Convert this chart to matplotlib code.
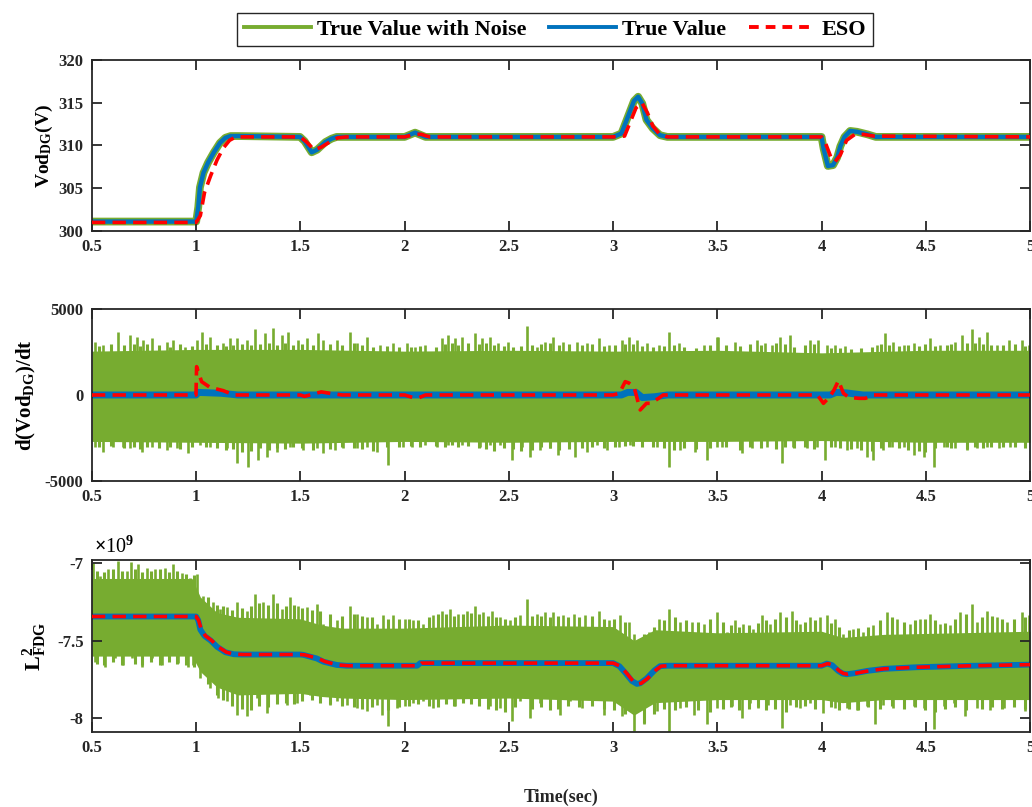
import numpy as np
import matplotlib
matplotlib.use("Agg")
import matplotlib.pyplot as plt
from matplotlib.lines import Line2D

plt.rcParams['font.family'] = ['Liberation Serif', 'DejaVu Serif']
plt.rcParams['font.weight'] = 'bold'
plt.rcParams['axes.unicode_minus'] = False
plt.rcParams['mathtext.fontset'] = 'custom'
plt.rcParams['mathtext.rm'] = 'Liberation Serif:bold'
plt.rcParams['mathtext.bf'] = 'Liberation Serif:bold'
plt.rcParams['mathtext.it'] = 'Liberation Serif:bold'
plt.rcParams['mathtext.default'] = 'bf'

GREEN = '#77AC30'
BLUE = '#0072BD'
RED = '#FF0000'

legend_labels = ['True Value with Noise', 'True Value', 'ESO']
x_ticks = [0.5, 1, 1.5, 2, 2.5, 3, 3.5, 4, 4.5, 5]

# ---------------- Panel 1: Vod_DG (V) ----------------
t1 = [0.5, 1.0, 1.01, 1.018, 1.035, 1.057, 1.085, 1.114, 1.14, 1.165, 1.2, 1.498, 1.52, 1.554,
      1.58, 1.62, 1.65, 1.674, 2.0, 2.03, 2.05, 2.07, 2.1, 3.0, 3.04, 3.07, 3.1, 3.12, 3.14,
      3.16, 3.19, 3.225, 3.26, 4.0, 4.01, 4.03, 4.055, 4.075, 4.09, 4.11, 4.137, 4.17, 4.22, 4.26, 5.0]
true1 = [301.1, 301.1, 302.8, 305.1, 306.8, 308.0, 309.2, 310.3, 310.9, 311.1, 311.1, 311.0, 310.5, 309.2,
         309.5, 310.4, 310.8, 311.0, 311.0, 311.3, 311.5, 311.3, 311.0, 311.0, 311.4, 313.3, 315.2, 315.7, 314.9,
         313.0, 312.0, 311.2, 311.0, 311.0, 309.6, 307.6, 307.7, 308.6, 309.9, 311.0, 311.7, 311.6, 311.3, 311.0, 311.0]
tE1 = [0.5, 1.0, 1.02, 1.04, 1.07, 1.1, 1.13, 1.16, 1.19, 1.22, 1.5, 1.53, 1.565, 1.6, 1.64, 1.68, 1.72,
       2.0, 2.05, 2.08, 2.12, 3.0, 3.055, 3.08, 3.11, 3.138, 3.165, 3.19, 3.22, 3.26,
       4.0, 4.02, 4.045, 4.065, 4.09, 4.12, 4.16, 4.2, 4.25, 5.0]
eso1 = [301.0, 301.0, 301.8, 304.5, 306.5, 308.3, 309.7, 310.6, 311.0, 311.0, 311.0, 310.4, 309.5, 309.8,
        310.4, 310.9, 311.0, 311.0, 311.3, 311.3, 311.0, 311.0, 311.1, 312.6, 314.4, 315.0, 313.8, 312.3,
        311.4, 311.0, 311.0, 310.2, 308.6, 308.1, 308.9, 310.6, 311.3, 311.3, 311.1, 311.0]

# ---------------- Panel 2: d(Vod_DG)/dt ----------------
t2 = [0.5, 1.0, 1.01, 1.12, 1.2, 3.04, 3.07, 3.11, 3.14, 3.2, 3.26, 4.04, 4.07, 4.12, 4.2, 5.0]
true2 = [0, 0, 150, 100, 0, 0, 150, 150, -150, -100, 0, 0, 150, 120, 0, 0]
tE2 = [0.5, 0.999, 1.002, 1.026, 1.066, 1.13, 1.18, 1.5, 1.52, 1.6, 1.65, 1.7, 2.0, 2.04, 2.07, 2.1,
       3.0, 3.03, 3.058, 3.075, 3.1, 3.13, 3.16, 3.18, 3.218, 3.24,
       3.98, 4.009, 4.04, 4.06, 4.081, 4.105, 4.13, 4.18, 4.21, 4.25, 5.0]
eso2 = [0, 0, 1650, 775, 446, 252, 0, 0, -80, 180, 80, 0, 0, -150, -150, 0,
        0, 100, 775, 700, 484, -872, -485, -485, -194, 0,
        0, -485, -97, 300, 833, 96, -136, -194, -194, 0, 0]
tcore2 = [0.5, 1.0, 1.5, 2.0, 2.5, 3.0, 3.5, 4.0, 4.5, 5.0]
core2_up = [2550, 2650, 2650, 2550, 2600, 2550, 2600, 2450, 2600, 2600]
core2_lo = [-2700, -2750, -2800, -2700, -2750, -2700, -2700, -2650, -2750, -2750]
spk2_up_t = [0.514, 0.554, 0.626, 0.682, 0.714, 0.746, 0.786, 0.858, 0.890, 0.946, 1.002, 1.026, 1.066,
             1.130, 1.162, 1.194, 1.242, 1.282, 1.330, 1.370, 1.410, 1.442, 1.490, 1.530, 1.586, 1.610,
             1.674, 1.738, 1.770, 1.818, 1.882, 1.946, 2.010, 2.050, 2.098, 2.178, 2.210, 2.242, 2.274,
             2.338, 2.370, 2.410, 2.450, 2.498, 2.586, 2.634, 2.674, 2.714, 2.762, 2.826, 2.874, 2.930,
             2.978, 3.042, 3.074, 3.114, 3.162, 3.218, 3.270, 3.314, 3.434, 3.498, 3.505, 3.585, 3.689,
             3.729, 3.761, 3.801, 3.849, 3.945, 3.985, 4.025, 4.065, 4.113, 4.265, 4.305, 4.345, 4.393,
             4.441, 4.521, 4.569, 4.641, 4.673, 4.721, 4.753, 4.793, 4.841, 4.897, 4.961, 4.993]
spk2_up_v = [3101, 2907, 3643, 3488, 3391, 3197, 3294, 3101, 3197, 2800, 3197, 3682, 3391,
             3004, 3294, 3294, 3197, 3818, 3585, 3876, 3488, 3682, 3197, 3294, 3585, 3197,
             3197, 3682, 3004, 3391, 2900, 3004, 3004, 2810, 2907, 3294, 3488, 3294, 3391,
             3585, 3294, 3391, 3004, 3101, 4031, 2810, 3101, 3391, 3101, 3101, 3004, 3294,
             2907, 3197, 3391, 3197, 3004, 2900, 3643, 3004, 2900, 3391, 3391, 3101, 3197,
             3004, 2900, 3391, 3488, 3197, 3197, 2900, 2907, 2850, 2900, 3585, 3101, 2900,
             3004, 3294, 2900, 3101, 3488, 3818, 3391, 3682, 2900, 3197, 3197, 2900]
spk2_lo_t = [0.514, 0.554, 0.602, 0.650, 0.682, 0.738, 0.786, 0.858, 0.906, 0.962, 1.018, 1.066, 1.146,
             1.194, 1.250, 1.298, 1.338, 1.386, 1.450, 1.514, 1.578, 1.610, 1.666, 1.706, 1.770, 1.818,
             1.866, 1.922, 1.994, 2.034, 2.098, 2.154, 2.210, 2.274, 2.362, 2.410, 2.458, 2.514, 2.562,
             2.602, 2.650, 2.698, 2.738, 2.818, 2.874, 2.922, 2.970, 3.026, 3.082, 3.138, 3.210, 3.270,
             3.322, 3.394, 3.450, 3.498, 3.521, 3.617, 3.665, 3.737, 3.809, 3.865, 3.929, 3.977, 4.017,
             4.065, 4.121, 4.169, 4.217, 4.249, 4.297, 4.337, 4.393, 4.441, 4.489, 4.540, 4.585, 4.641,
             4.697, 4.745, 4.793, 4.849, 4.905, 4.977]
spk2_lo_v = [-3004, -3295, -3004, -3004, -3101, -3295, -3004, -3198, -3101, -3392, -2900, -3004, -3101,
             -3973, -4167, -3779, -3586, -3295, -3004, -3198, -3101, -3392, -3198, -3101, -3101, -3004,
             -3295, -4070, -3004, -3004, -2900, -3004, -2907, -2900, -3004, -2900, -2907, -3779, -3004,
             -3586, -3198, -3101, -3489, -3586, -3295, -2907, -3198, -3004, -2900, -2900, -3004, -4167,
             -3198, -3295, -3779, -3004, -3004, -3392, -3101, -3004, -3973, -3004, -3101, -3004, -3779,
             -3004, -3198, -3101, -3586, -3779, -3198, -3004, -3004, -3489, -3586, -4167, -3004, -3101,
             -3198, -3101, -3004, -3101, -3004, -3004]
# smaller spikes between the tall ones (estimated)
mnr2_t = [0.534, 0.590, 0.655, 0.700, 0.730, 0.766, 0.820, 0.875, 0.920, 0.980, 1.045, 1.100, 1.145,
          1.178, 1.220, 1.262, 1.305, 1.350, 1.390, 1.425, 1.465, 1.510, 1.560, 1.640, 1.700, 1.755,
          1.795, 1.850, 1.915, 1.975, 2.030, 2.075, 2.150, 2.195, 2.225, 2.258, 2.305, 2.355, 2.390,
          2.430, 2.475, 2.520, 2.560, 2.610, 2.655, 2.695, 2.740, 2.790, 2.850, 2.900, 2.955, 3.010,
          3.058, 3.094, 3.140, 3.190, 3.245, 3.290, 3.340, 3.400, 3.465, 3.540, 3.610, 3.655, 3.710,
          3.780, 3.825, 3.870, 3.920, 3.965, 4.045, 4.090, 4.140, 4.190, 4.240, 4.285, 4.325, 4.370,
          4.415, 4.465, 4.495, 4.545, 4.600, 4.620, 4.700, 4.737, 4.773, 4.815, 4.870, 4.930, 4.978]
mnr2_up = [2850, 2950, 2900, 2950, 2850, 2950, 2900, 2800, 2950, 2850, 2950, 2900, 2850,
           2900, 2950, 2900, 2950, 3000, 2900, 3000, 2900, 2950, 2900, 2950, 2900, 3000,
           2900, 2800, 2850, 2800, 2800, 2850, 2800, 2950, 3000, 2900, 3000, 2950, 3000,
           2900, 2850, 2800, 2850, 2900, 2950, 3000, 2900, 2950, 2900, 2950, 2850, 2900,
           2950, 2950, 2850, 2800, 2850, 2900, 2800, 2750, 2900, 2900, 2850, 2950, 2900,
           3000, 2950, 2800, 2900, 2950, 2750, 2750, 2700, 2750, 2800, 2950, 2900, 2850,
           2900, 2850, 2950, 2850, 2900, 2950, 3000, 3000, 2950, 2900, 2900, 2950, 2850]
mnr2_lo = [-3050, -2950, -3100, -3050, -3150, -3000, -3100, -3050, -3150, -3000, -3050, -3100, -3200,
           -3150, -3300, -3250, -3100, -3200, -3100, -3150, -3050, -3100, -3200, -3150, -3050, -3100,
           -3150, -3250, -3050, -3000, -2950, -3000, -2950, -3000, -2900, -3050, -2950, -3100, -3150,
           -3250, -3100, -3150, -3250, -3200, -3050, -3100, -3200, -3150, -3100, -3000, -3100, -3000,
           -2950, -2950, -3000, -3050, -3100, -3200, -3100, -3150, -3100, -3050, -3200, -3050, -3100,
           -3150, -3050, -3100, -3050, -3150, -3050, -3100, -3150, -3200, -3250, -3100, -3050, -3100,
           -3200, -3250, -3300, -3100, -3050, -3100, -3150, -3050, -3100, -3050, -3000, -3050, -3100]

# ---------------- Panel 3: L^2_FDG (x1e9) ----------------
t3 = [0.5, 1.0, 1.01, 1.02, 1.04, 1.07, 1.1, 1.14, 1.18, 1.22, 1.5, 1.514, 1.578, 1.61, 1.674, 1.72,
      2.06, 2.075, 3.0, 3.03, 3.06, 3.09, 3.114, 3.13, 3.16, 3.2, 3.225, 3.26, 4.0, 4.025, 4.05, 4.08,
      4.1, 4.12, 4.16, 4.22, 4.3, 4.45, 4.7, 5.0]
true3 = [-7.345, -7.345, -7.37, -7.43, -7.47, -7.50, -7.54, -7.575, -7.588, -7.59, -7.59, -7.592, -7.615,
         -7.636, -7.657, -7.662, -7.662, -7.645, -7.645, -7.665, -7.71, -7.76, -7.779, -7.775, -7.745, -7.69,
         -7.665, -7.662, -7.662, -7.648, -7.658, -7.695, -7.712, -7.717, -7.71, -7.695, -7.682, -7.672, -7.663, -7.655]
tE3 = [0.5, 1.0, 1.012, 1.025, 1.045, 1.075, 1.105, 1.145, 1.185, 1.23, 1.5, 1.52, 1.585, 1.62, 1.68, 1.73,
       2.065, 2.08, 3.0, 3.035, 3.065, 3.095, 3.12, 3.135, 3.165, 3.205, 3.23, 3.27, 4.0, 4.03, 4.055, 4.085,
       4.105, 4.125, 4.165, 4.225, 4.3, 4.45, 4.7, 5.0]
eso3 = [-7.345, -7.345, -7.37, -7.43, -7.47, -7.50, -7.54, -7.575, -7.588, -7.59, -7.59, -7.592, -7.615,
        -7.636, -7.657, -7.662, -7.662, -7.645, -7.645, -7.665, -7.71, -7.76, -7.779, -7.775, -7.745, -7.69,
        -7.665, -7.662, -7.662, -7.648, -7.658, -7.695, -7.712, -7.717, -7.71, -7.695, -7.682, -7.672, -7.663, -7.655]
tcore3 = [0.5, 0.98, 1.02, 1.1, 1.2, 1.5, 1.6, 1.7, 2.0, 2.5, 3.0, 3.1, 3.2, 3.5, 4.0, 4.1, 4.3, 5.0]
core3_up = [-7.10, -7.10, -7.22, -7.32, -7.35, -7.36, -7.40, -7.42, -7.42, -7.40, -7.41, -7.50, -7.43,
            -7.45, -7.44, -7.48, -7.46, -7.44]
core3_lo = [-7.60, -7.60, -7.70, -7.80, -7.85, -7.84, -7.86, -7.87, -7.88, -7.87, -7.89, -7.98, -7.90,
            -7.88, -7.88, -7.90, -7.88, -7.88]
spk3_up_t = [0.506, 0.538, 0.578, 0.626, 0.666, 0.686, 0.722, 0.762, 0.802, 0.850, 0.890, 0.930, 0.970,
             1.002, 1.034, 1.082, 1.114, 1.146, 1.194, 1.242, 1.282, 1.322, 1.370, 1.410, 1.450, 1.490,
             1.530, 1.578, 1.610, 1.674, 1.738, 1.770, 1.818, 1.866, 1.898, 1.946, 2.002, 2.042, 2.090,
             2.138, 2.178, 2.218, 2.258, 2.298, 2.338, 2.378, 2.418, 2.458, 2.506, 2.554, 2.586, 2.634,
             2.674, 2.714, 2.762, 2.810, 2.866, 2.930, 2.978, 3.034, 3.074, 3.098, 3.130, 3.170, 3.218,
             3.270, 3.322, 3.378, 3.434, 3.498, 3.545, 3.585, 3.625, 3.673, 3.713, 3.753, 3.801, 3.857,
             3.897, 3.945, 3.993, 4.025, 4.065, 4.105, 4.153, 4.201, 4.249, 4.313, 4.361, 4.425, 4.473,
             4.521, 4.569, 4.617, 4.665, 4.721, 4.745, 4.793, 4.841, 4.889, 4.961, 4.993]
spk3_up_v = [-6.998, -7.083, -7.041, -6.985, -7.051, -6.994, -7.009, -7.030, -7.041, -7.030, -7.009, -7.062, -7.094,
             -7.073, -7.211, -7.253, -7.296, -7.285, -7.253, -7.307, -7.200, -7.253, -7.200, -7.296, -7.221, -7.275,
             -7.285, -7.264, -7.392, -7.370, -7.275, -7.328, -7.349, -7.392, -7.338, -7.338, -7.360, -7.370, -7.392,
             -7.338, -7.307, -7.296, -7.328, -7.307, -7.275, -7.317, -7.307, -7.349, -7.370, -7.338, -7.232, -7.328,
             -7.317, -7.317, -7.338, -7.328, -7.338, -7.307, -7.370, -7.338, -7.381, -7.455, -7.487, -7.445, -7.360,
             -7.296, -7.381, -7.381, -7.392, -7.317, -7.445, -7.370, -7.392, -7.424, -7.338, -7.392, -7.317, -7.307,
             -7.392, -7.349, -7.349, -7.338, -7.360, -7.455, -7.424, -7.445, -7.402, -7.317, -7.360, -7.392, -7.360,
             -7.328, -7.392, -7.402, -7.317, -7.264, -7.381, -7.307, -7.349, -7.381, -7.317, -7.338]
spk3_lo_t = [0.514, 0.562, 0.610, 0.650, 0.690, 0.738, 0.786, 0.834, 0.874, 0.914, 0.962, 0.986, 1.018,
             1.066, 1.106, 1.146, 1.194, 1.242, 1.290, 1.338, 1.386, 1.434, 1.482, 1.546, 1.594, 1.642,
             1.674, 1.722, 1.770, 1.818, 1.866, 1.890, 1.922, 1.962, 2.002, 2.042, 2.090, 2.138, 2.194,
             2.242, 2.298, 2.354, 2.410, 2.458, 2.514, 2.554, 2.602, 2.650, 2.698, 2.746, 2.794, 2.850,
             2.906, 2.954, 3.002, 3.042, 3.098, 3.146, 3.210, 3.270, 3.322, 3.386, 3.450, 3.498, 3.529,
             3.569, 3.617, 3.657, 3.697, 3.745, 3.809, 3.849, 3.897, 3.945, 4.009, 4.065, 4.121, 4.169,
             4.217, 4.257, 4.297, 4.345, 4.393, 4.441, 4.489, 4.537, 4.585, 4.633, 4.689, 4.745, 4.809,
             4.873, 4.921, 4.977]
spk3_lo_v = [-7.636, -7.668, -7.615, -7.657, -7.615, -7.668, -7.615, -7.657, -7.594, -7.647, -7.668, -7.657, -7.743,
             -7.806, -7.870, -7.892, -7.977, -7.987, -7.870, -7.966, -7.892, -7.913, -7.902, -7.849, -7.892, -7.913,
             -7.892, -7.913, -7.934, -7.955, -7.913, -7.977, -8.051, -7.934, -7.923, -7.902, -7.892, -7.934, -7.870,
             -7.923, -7.860, -7.870, -7.923, -7.934, -8.019, -7.892, -7.998, -7.902, -7.934, -7.977, -7.892, -7.934,
             -7.870, -7.977, -7.934, -7.987, -8.083, -8.040, -7.955, -8.094, -7.934, -7.977, -8.040, -7.934, -7.913,
             -7.923, -7.998, -7.902, -7.934, -7.913, -8.062, -7.913, -7.934, -7.902, -7.966, -7.934, -7.934, -7.945,
             -7.923, -8.040, -7.913, -7.934, -7.902, -7.923, -7.934, -8.072, -7.923, -7.902, -7.987, -7.934, -7.945,
             -7.934, -7.923, -7.955]
# smaller spikes between the tall ones (estimated)
mnr3_t = [0.522, 0.558, 0.600, 0.646, 0.705, 0.740, 0.782, 0.826, 0.870, 0.910, 0.950, 0.988, 1.055,
          1.098, 1.130, 1.170, 1.218, 1.262, 1.302, 1.346, 1.390, 1.430, 1.470, 1.510, 1.555, 1.595,
          1.640, 1.700, 1.755, 1.795, 1.842, 1.922, 1.975, 2.020, 2.066, 2.115, 2.158, 2.198, 2.238,
          2.278, 2.318, 2.358, 2.398, 2.438, 2.482, 2.530, 2.610, 2.655, 2.695, 2.738, 2.786, 2.838,
          2.898, 2.955, 3.005, 3.055, 3.150, 3.195, 3.245, 3.296, 3.350, 3.405, 3.465, 3.525, 3.565,
          3.605, 3.650, 3.693, 3.733, 3.777, 3.830, 3.877, 3.920, 3.970, 4.045, 4.085, 4.130, 4.177,
          4.225, 4.280, 4.337, 4.393, 4.449, 4.497, 4.545, 4.593, 4.641, 4.693, 4.769, 4.817, 4.865,
          4.925, 4.977]
mnr3_up = [-7.05, -7.06, -7.04, -7.05, -7.04, -7.06, -7.05, -7.04, -7.06, -7.05, -7.07, -7.08, -7.22,
           -7.27, -7.28, -7.30, -7.29, -7.28, -7.26, -7.27, -7.26, -7.28, -7.27, -7.29, -7.30, -7.31,
           -7.33, -7.34, -7.33, -7.34, -7.35, -7.36, -7.36, -7.36, -7.37, -7.35, -7.33, -7.33, -7.34,
           -7.33, -7.32, -7.33, -7.34, -7.35, -7.36, -7.35, -7.34, -7.34, -7.35, -7.34, -7.35, -7.35,
           -7.34, -7.36, -7.36, -7.38, -7.46, -7.41, -7.37, -7.35, -7.37, -7.38, -7.36, -7.38, -7.40,
           -7.41, -7.40, -7.39, -7.37, -7.36, -7.35, -7.37, -7.38, -7.37, -7.39, -7.41, -7.43, -7.42,
           -7.41, -7.37, -7.35, -7.38, -7.37, -7.36, -7.37, -7.39, -7.36, -7.33, -7.35, -7.34, -7.36,
           -7.36, -7.35]
mnr3_lo = [-7.65, -7.66, -7.64, -7.66, -7.65, -7.66, -7.64, -7.66, -7.64, -7.65, -7.66, -7.67, -7.78,
           -7.85, -7.88, -7.92, -7.94, -7.95, -7.92, -7.93, -7.91, -7.90, -7.91, -7.89, -7.88, -7.90,
           -7.91, -7.92, -7.93, -7.94, -7.93, -7.95, -7.93, -7.92, -7.91, -7.92, -7.93, -7.91, -7.92,
           -7.90, -7.91, -7.92, -7.94, -7.95, -7.96, -7.93, -7.94, -7.93, -7.95, -7.94, -7.92, -7.93,
           -7.92, -7.94, -7.95, -7.97, -8.03, -7.97, -7.94, -7.95, -7.93, -7.95, -7.96, -7.94, -7.93,
           -7.95, -7.94, -7.93, -7.95, -7.94, -7.96, -7.93, -7.92, -7.94, -7.93, -7.95, -7.94, -7.95,
           -7.93, -7.94, -7.92, -7.94, -7.93, -7.95, -7.96, -7.94, -7.93, -7.95, -7.94, -7.93, -7.94,
           -7.93, -7.94]

# ---------------- Figure ----------------
fig = plt.figure(figsize=(10.32, 8.07), dpi=100)
L, W = 0.0891, 0.909
ax1 = fig.add_axes([L, 0.7138, W, 0.2119])
ax2 = fig.add_axes([L, 0.4040, W, 0.2131])
ax3 = fig.add_axes([L, 0.0929, W, 0.2132])

DASH = (3.7, 2.0)

# panel 1
ax1.plot(t1, true1, color=GREEN, lw=5.6, solid_capstyle='butt', zorder=1)
ax1.plot(t1, true1, color=BLUE, lw=3.2, zorder=2)
ax1.plot(tE1, eso1, color=RED, lw=2.6, dashes=DASH, zorder=3)
ax1.set_ylim(300, 320)
ax1.set_yticks([300, 305, 310, 315, 320])
ax1.set_ylabel('Vod$_{DG}$(V)', fontsize=14, fontweight='bold')
ax1.yaxis.set_label_coords(-0.039, 0.5)

# panel 2
ax2.fill_between(tcore2, core2_lo, core2_up, color=GREEN, lw=0, zorder=1)
ax2.vlines(mnr2_t, mnr2_lo, mnr2_up, color=GREEN, lw=2.2, zorder=1)
ax2.vlines(spk2_up_t, 0, spk2_up_v, color=GREEN, lw=1.9, zorder=1)
ax2.vlines(spk2_lo_t, 0, spk2_lo_v, color=GREEN, lw=1.9, zorder=1)
ax2.plot(t2, true2, color=BLUE, lw=5.0, zorder=2)
ax2.plot(tE2, eso2, color=RED, lw=2.6, dashes=DASH, zorder=3)
ax2.set_ylim(-5000, 5000)
ax2.set_yticks([-5000, 0, 5000])
ax2.set_ylabel('d(Vod$_{DG}$)/dt', fontsize=15, fontweight='bold')
ax2.yaxis.set_label_coords(-0.058, 0.5)

# panel 3
base_up = np.interp(spk3_up_t, t3, true3)
base_lo = np.interp(spk3_lo_t, t3, true3)
ax3.fill_between(tcore3, core3_lo, core3_up, color=GREEN, lw=0, zorder=1)
ax3.vlines(mnr3_t, mnr3_lo, mnr3_up, color=GREEN, lw=2.2, zorder=1)
ax3.vlines(spk3_up_t, base_up, spk3_up_v, color=GREEN, lw=1.9, zorder=1)
ax3.vlines(spk3_lo_t, base_lo, spk3_lo_v, color=GREEN, lw=1.9, zorder=1)
ax3.plot(t3, true3, color=BLUE, lw=4.2, zorder=2)
ax3.plot(tE3, eso3, color=RED, lw=2.6, dashes=DASH, zorder=3)
ax3.set_ylim(-8.089, -6.981)
ax3.set_yticks([-8, -7.5, -7])
ax3.set_yticklabels(['-8', '-7.5', '-7'])
ax3.set_ylabel('L$_{FDG}^{2}$', fontsize=16, fontweight='bold')
ax3.yaxis.set_label_coords(-0.046, 0.5)
ax3.text(0.002, 1.01, r'$\times$10$^{9}$', transform=ax3.transAxes, fontsize=14.5,
         fontweight='normal', ha='left', va='bottom', family=['Liberation Serif'])

for ax in (ax1, ax2, ax3):
    ax.set_xlim(0.5, 5)
    ax.set_xticks(x_ticks)
    ax.set_xticklabels(['%g' % v for v in x_ticks])
    ax.tick_params(direction='in', length=7, width=1.3, top=True, right=True,
                   labelsize=12, pad=6, colors='#262626')
    for lab in ax.get_xticklabels() + ax.get_yticklabels():
        lab.set_fontweight('bold')
        lab.set_color('#262626')
    for sp in ax.spines.values():
        sp.set_linewidth(1.3)
        sp.set_color('#262626')

fig.text(0.5435, 0.012, 'Time(sec)', ha='center', va='center', fontsize=13, fontweight='bold',
         color='#262626')

handles = [Line2D([], [], color=GREEN, lw=2.8),
           Line2D([], [], color=BLUE, lw=2.8),
           Line2D([], [], color=RED, lw=2.8, dashes=(2.5, 1.8))]
leg = fig.legend(handles, legend_labels, loc='center', bbox_to_anchor=(0.538, 0.9635), ncol=3,
                 frameon=True, fancybox=False, edgecolor='#262626', framealpha=1,
                 prop={'weight': 'bold', 'size': 16}, handlelength=3.0, handletextpad=0.3,
                 columnspacing=1.0, borderpad=0.3, borderaxespad=0)
leg.get_frame().set_linewidth(1.0)

fig.savefig('out.png', dpi=100)
